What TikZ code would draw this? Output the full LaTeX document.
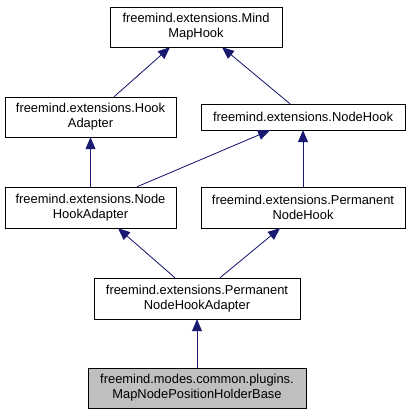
\documentclass[tikz,border=0pt]{standalone}
\usepackage{fontspec}
\setmainfont{Liberation Sans}
\usepackage{xcolor}
\usepackage{tikz}
\usetikzlibrary{arrows.meta,positioning}

\definecolor{edgeblue}{HTML}{191970}
\definecolor{curgray}{HTML}{BFBFBF}

\begin{document}
\begin{tikzpicture}[x=1pt,y=-1pt,
    cls/.style={draw=black,fill=white,inner sep=0pt,align=center,
      font=\fontsize{12.9}{15}\selectfont},
    inh/.style={draw=edgeblue,thick,-{Triangle[length=12pt,width=10pt]},fill=edgeblue}]
  \useasboundingbox (0,0) rectangle (412,416);
  % class boxes
  \node[cls,minimum width=172pt,minimum height=40pt] (mmh) at (196,27)
    {freemind.extensions.Mind\\MapHook};
  \node[cls,minimum width=171pt,minimum height=40pt] (ha) at (90.5,117)
    {freemind.extensions.Hook\\Adapter};
  \node[cls,minimum width=204pt,minimum height=26pt] (nh) at (303,117)
    {freemind.extensions.NodeHook};
  \node[cls,minimum width=171pt,minimum height=41pt] (nha) at (90.5,207.5)
    {freemind.extensions.Node\\HookAdapter};
  \node[cls,minimum width=204pt,minimum height=41pt] (pnh) at (303,207.5)
    {freemind.extensions.Permanent\\NodeHook};
  \node[cls,minimum width=206pt,minimum height=41pt] (pnha) at (197,298.5)
    {freemind.extensions.Permanent\\NodeHookAdapter};
  \node[cls,fill=curgray,minimum width=218pt,minimum height=40pt] (mnph) at (197,388)
    {freemind.modes.common.plugins.\\MapNodePositionHolderBase};
  % inheritance edges
  \draw[inh] ([xshift=23.5pt]ha.north) -- ([xshift=-26pt]mmh.south);
  \draw[inh] ([xshift=-13pt]nh.north) -- ([xshift=26pt]mmh.south);
  \draw[inh] (nha.north) -- (ha.south);
  \draw[inh] ([xshift=46.5pt]nha.north) -- ([xshift=-33pt]nh.south);
  \draw[inh] (pnh.north) -- (nh.south);
  \draw[inh] ([xshift=-22pt]pnha.north) -- ([xshift=27.5pt]nha.south);
  \draw[inh] ([xshift=23pt]pnha.north) -- ([xshift=-23pt]pnh.south);
  \draw[inh] (mnph.north) -- (pnha.south);
\end{tikzpicture}
\end{document}
